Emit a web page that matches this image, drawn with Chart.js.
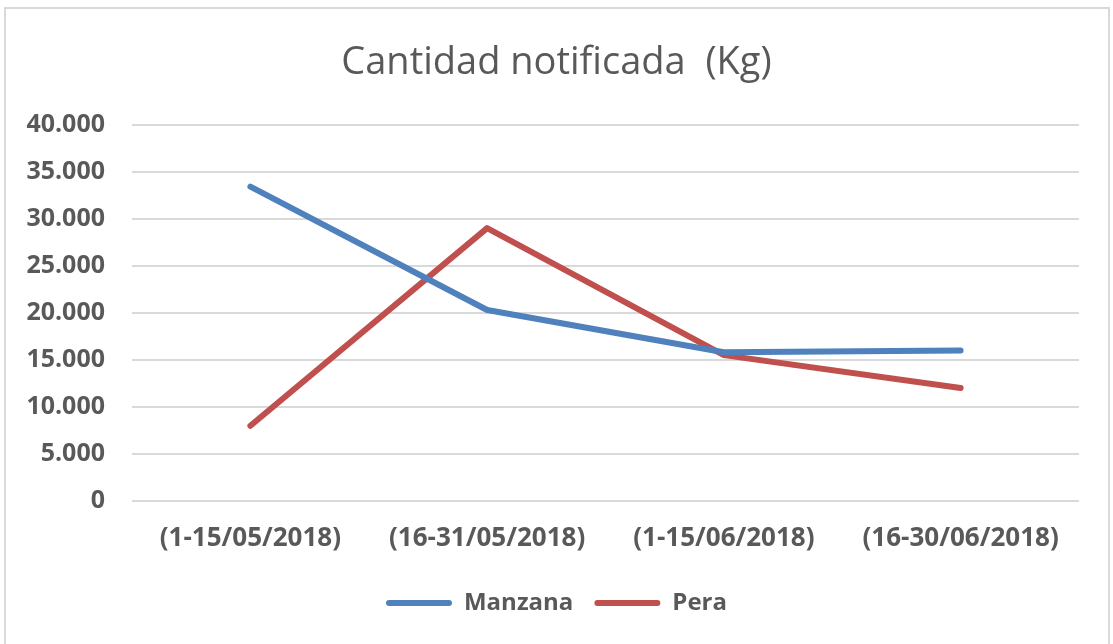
<!DOCTYPE html>
<html>
<head>
<meta charset="utf-8">
<script src="https://cdn.jsdelivr.net/npm/chart.js@4"></script>
<style>
  html, body { margin: 0; padding: 0; background: #ffffff; overflow: hidden; }
  #frame { position: absolute; left: 4px; top: 7px; width: 1106px; height: 700px; border: 2px solid #d9d9d9; box-sizing: border-box; }
  #wrap { position: absolute; left: 0; top: 0; width: 1113px; height: 644px; }
</style>
</head>
<body>
<div id="frame"></div>
<div id="wrap"><canvas id="c" width="1113" height="644"></canvas></div>
<script>
const categories = ['(1-15/05/2018)', '(16-31/05/2018)', '(1-15/06/2018)', '(16-30/06/2018)'];
const manzana = [33400, 20300, 15800, 16000];
const pera = [8000, 29000, 15500, 12000];
const yTickLabels = ['0', '5.000', '10.000', '15.000', '20.000', '25.000', '30.000', '35.000', '40.000'];
const titleText = 'Cantidad notificada  (Kg)';

const textColor = '#595959';
const fontFamily = '"Open Sans", "Noto Sans", sans-serif';

new Chart(document.getElementById('c'), {
  type: 'line',
  data: {
    labels: categories,
    datasets: [
      { label: 'Manzana', data: manzana, borderColor: '#4f81bd', backgroundColor: '#4f81bd',
        borderWidth: 6, pointRadius: 0, tension: 0, borderCapStyle: 'round', borderJoinStyle: 'round' },
      { label: 'Pera', data: pera, borderColor: '#c0504d', backgroundColor: '#c0504d',
        borderWidth: 6, pointRadius: 0, tension: 0, borderCapStyle: 'round', borderJoinStyle: 'round' }
    ]
  },
  options: {
    responsive: false,
    animation: false,
    devicePixelRatio: 1,
    layout: { padding: { left: 0, right: 0, top: 0, bottom: 19 } },
    plugins: {
      tooltip: { enabled: false },
      title: {
        display: true, text: titleText, color: textColor,
        font: { family: fontFamily, size: 38, weight: 'normal' },
        padding: { top: 40, bottom: 39 }
      },
      legend: {
        display: true, position: 'bottom',
        labels: {
          color: textColor,
          font: { family: fontFamily, size: 24, weight: 'bold' },
          boxWidth: 66, boxHeight: 6, padding: 21,
          useBorderRadius: true, borderRadius: 3,
          generateLabels: (chart) => Chart.defaults.plugins.legend.labels.generateLabels(chart).map(l => Object.assign(l, { lineWidth: 0 }))
        }
      }
    },
    scales: {
      x: {
        offset: true,
        grid: { display: false, drawTicks: false },
        border: { display: false },
        ticks: { color: textColor, font: { family: fontFamily, size: 26, weight: 'bold' }, padding: 22, maxRotation: 0, autoSkip: false },
        afterFit: (s) => { s.height = 69; }
      },
      y: {
        min: 0, max: 40000,
        grid: { color: '#d9d9d9', lineWidth: 2, drawTicks: false },
        border: { display: false },
        ticks: {
          stepSize: 5000, color: textColor, padding: 27,
          font: { family: fontFamily, size: 25, weight: 'bold' },
          callback: (v, i) => yTickLabels[i]
        },
        afterFit: (s) => { s.width = 132; }
      },
      yRight: {
        position: 'right', display: true,
        grid: { display: false, drawTicks: false },
        border: { display: false },
        ticks: { display: false },
        afterFit: (s) => { s.width = 34; }
      }
    }
  }
});
</script>
</body>
</html>
